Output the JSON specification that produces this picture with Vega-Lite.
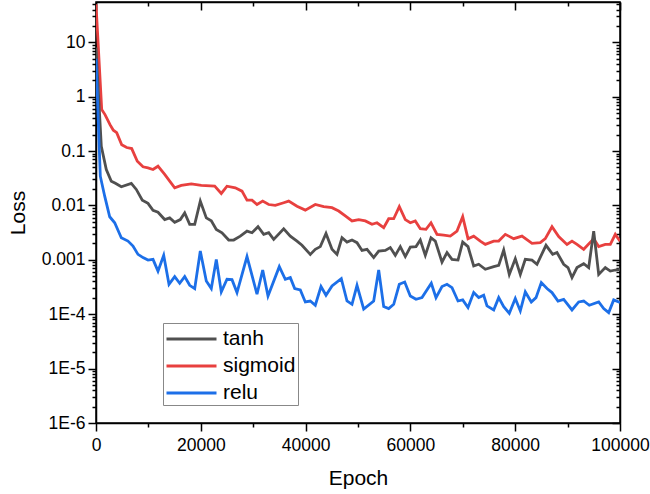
{
  "$schema": "https://vega.github.io/schema/vega-lite/v6.json",
  "autosize": {"type": "none"},
  "width": 524,
  "height": 421,
  "padding": {"left": 96, "top": 2, "right": 30, "bottom": 71},
  "background": "white",
  "config": {
    "font": "Liberation Sans",
    "view": {"stroke": "black", "strokeWidth": 1.5},
    "axis": {"domainColor": "black", "domainWidth": 1.5, "tickColor": "black", "tickWidth": 1.5, "labelColor": "black", "titleColor": "black", "grid": false}
  },
  "datasets": {
    "loss": [
      {"epoch": 0, "loss": 50, "fn": "sigmoid"},
      {"epoch": 1088, "loss": 0.577, "fn": "sigmoid"},
      {"epoch": 1718, "loss": 0.468, "fn": "sigmoid"},
      {"epoch": 2672, "loss": 0.306, "fn": "sigmoid"},
      {"epoch": 3302, "loss": 0.241, "fn": "sigmoid"},
      {"epoch": 3950, "loss": 0.218, "fn": "sigmoid"},
      {"epoch": 4905, "loss": 0.131, "fn": "sigmoid"},
      {"epoch": 5859, "loss": 0.116, "fn": "sigmoid"},
      {"epoch": 6813, "loss": 0.111, "fn": "sigmoid"},
      {"epoch": 7882, "loss": 0.065, "fn": "sigmoid"},
      {"epoch": 8970, "loss": 0.0513, "fn": "sigmoid"},
      {"epoch": 9924, "loss": 0.0492, "fn": "sigmoid"},
      {"epoch": 10878, "loss": 0.0458, "fn": "sigmoid"},
      {"epoch": 11832, "loss": 0.0526, "fn": "sigmoid"},
      {"epoch": 13111, "loss": 0.0371, "fn": "sigmoid"},
      {"epoch": 15019, "loss": 0.0211, "fn": "sigmoid"},
      {"epoch": 16279, "loss": 0.0233, "fn": "sigmoid"},
      {"epoch": 18187, "loss": 0.025, "fn": "sigmoid"},
      {"epoch": 20095, "loss": 0.0233, "fn": "sigmoid"},
      {"epoch": 22652, "loss": 0.0226, "fn": "sigmoid"},
      {"epoch": 23912, "loss": 0.0166, "fn": "sigmoid"},
      {"epoch": 25000, "loss": 0.0226, "fn": "sigmoid"},
      {"epoch": 26584, "loss": 0.0211, "fn": "sigmoid"},
      {"epoch": 27862, "loss": 0.0183, "fn": "sigmoid"},
      {"epoch": 28817, "loss": 0.0125, "fn": "sigmoid"},
      {"epoch": 29771, "loss": 0.0125, "fn": "sigmoid"},
      {"epoch": 30725, "loss": 0.0104, "fn": "sigmoid"},
      {"epoch": 31813, "loss": 0.012, "fn": "sigmoid"},
      {"epoch": 32958, "loss": 0.0104, "fn": "sigmoid"},
      {"epoch": 34217, "loss": 0.01, "fn": "sigmoid"},
      {"epoch": 35821, "loss": 0.0112, "fn": "sigmoid"},
      {"epoch": 36775, "loss": 0.012, "fn": "sigmoid"},
      {"epoch": 38359, "loss": 0.0097, "fn": "sigmoid"},
      {"epoch": 39943, "loss": 0.0082, "fn": "sigmoid"},
      {"epoch": 41851, "loss": 0.0104, "fn": "sigmoid"},
      {"epoch": 43454, "loss": 0.0095, "fn": "sigmoid"},
      {"epoch": 45038, "loss": 0.0091, "fn": "sigmoid"},
      {"epoch": 46317, "loss": 0.0079, "fn": "sigmoid"},
      {"epoch": 47577, "loss": 0.0064, "fn": "sigmoid"},
      {"epoch": 48855, "loss": 0.0052, "fn": "sigmoid"},
      {"epoch": 50134, "loss": 0.0055, "fn": "sigmoid"},
      {"epoch": 51393, "loss": 0.0052, "fn": "sigmoid"},
      {"epoch": 52672, "loss": 0.0045, "fn": "sigmoid"},
      {"epoch": 53626, "loss": 0.0048, "fn": "sigmoid"},
      {"epoch": 54905, "loss": 0.0039, "fn": "sigmoid"},
      {"epoch": 55859, "loss": 0.0057, "fn": "sigmoid"},
      {"epoch": 56813, "loss": 0.0057, "fn": "sigmoid"},
      {"epoch": 57882, "loss": 0.0095, "fn": "sigmoid"},
      {"epoch": 59027, "loss": 0.0055, "fn": "sigmoid"},
      {"epoch": 59981, "loss": 0.0048, "fn": "sigmoid"},
      {"epoch": 60935, "loss": 0.0052, "fn": "sigmoid"},
      {"epoch": 61889, "loss": 0.00373, "fn": "sigmoid"},
      {"epoch": 62977, "loss": 0.00363, "fn": "sigmoid"},
      {"epoch": 63931, "loss": 0.0048, "fn": "sigmoid"},
      {"epoch": 65076, "loss": 0.00294, "fn": "sigmoid"},
      {"epoch": 66355, "loss": 0.00285, "fn": "sigmoid"},
      {"epoch": 67614, "loss": 0.00273, "fn": "sigmoid"},
      {"epoch": 68893, "loss": 0.00337, "fn": "sigmoid"},
      {"epoch": 69981, "loss": 0.0062, "fn": "sigmoid"},
      {"epoch": 70992, "loss": 0.00245, "fn": "sigmoid"},
      {"epoch": 72080, "loss": 0.00273, "fn": "sigmoid"},
      {"epoch": 73340, "loss": 0.00221, "fn": "sigmoid"},
      {"epoch": 74294, "loss": 0.00192, "fn": "sigmoid"},
      {"epoch": 75898, "loss": 0.00221, "fn": "sigmoid"},
      {"epoch": 76852, "loss": 0.00221, "fn": "sigmoid"},
      {"epoch": 78111, "loss": 0.00294, "fn": "sigmoid"},
      {"epoch": 79714, "loss": 0.00245, "fn": "sigmoid"},
      {"epoch": 81298, "loss": 0.00273, "fn": "sigmoid"},
      {"epoch": 83206, "loss": 0.00201, "fn": "sigmoid"},
      {"epoch": 84790, "loss": 0.00207, "fn": "sigmoid"},
      {"epoch": 85744, "loss": 0.00245, "fn": "sigmoid"},
      {"epoch": 87023, "loss": 0.00406, "fn": "sigmoid"},
      {"epoch": 88301, "loss": 0.00267, "fn": "sigmoid"},
      {"epoch": 89885, "loss": 0.00192, "fn": "sigmoid"},
      {"epoch": 90840, "loss": 0.00221, "fn": "sigmoid"},
      {"epoch": 91794, "loss": 0.00192, "fn": "sigmoid"},
      {"epoch": 93072, "loss": 0.00156, "fn": "sigmoid"},
      {"epoch": 94981, "loss": 0.00245, "fn": "sigmoid"},
      {"epoch": 95935, "loss": 0.00175, "fn": "sigmoid"},
      {"epoch": 97195, "loss": 0.00192, "fn": "sigmoid"},
      {"epoch": 98149, "loss": 0.00192, "fn": "sigmoid"},
      {"epoch": 99103, "loss": 0.00294, "fn": "sigmoid"},
      {"epoch": 100000, "loss": 0.00221, "fn": "sigmoid"},

      {"epoch": 0, "loss": 8, "fn": "tanh"},
      {"epoch": 1011, "loss": 0.122, "fn": "tanh"},
      {"epoch": 1966, "loss": 0.0458, "fn": "tanh"},
      {"epoch": 2920, "loss": 0.0279, "fn": "tanh"},
      {"epoch": 3700, "loss": 0.0255, "fn": "tanh"},
      {"epoch": 4828, "loss": 0.022, "fn": "tanh"},
      {"epoch": 6737, "loss": 0.0254, "fn": "tanh"},
      {"epoch": 7691, "loss": 0.0197, "fn": "tanh"},
      {"epoch": 8836, "loss": 0.0125, "fn": "tanh"},
      {"epoch": 9924, "loss": 0.0109, "fn": "tanh"},
      {"epoch": 10878, "loss": 0.0081, "fn": "tanh"},
      {"epoch": 11832, "loss": 0.0075, "fn": "tanh"},
      {"epoch": 13111, "loss": 0.0055, "fn": "tanh"},
      {"epoch": 14065, "loss": 0.0059, "fn": "tanh"},
      {"epoch": 15019, "loss": 0.0049, "fn": "tanh"},
      {"epoch": 16088, "loss": 0.0055, "fn": "tanh"},
      {"epoch": 16927, "loss": 0.0073, "fn": "tanh"},
      {"epoch": 17882, "loss": 0.0045, "fn": "tanh"},
      {"epoch": 18836, "loss": 0.0045, "fn": "tanh"},
      {"epoch": 19905, "loss": 0.012, "fn": "tanh"},
      {"epoch": 21050, "loss": 0.0059, "fn": "tanh"},
      {"epoch": 22004, "loss": 0.0052, "fn": "tanh"},
      {"epoch": 22958, "loss": 0.00363, "fn": "tanh"},
      {"epoch": 24046, "loss": 0.00315, "fn": "tanh"},
      {"epoch": 25324, "loss": 0.00231, "fn": "tanh"},
      {"epoch": 26278, "loss": 0.00231, "fn": "tanh"},
      {"epoch": 27538, "loss": 0.00273, "fn": "tanh"},
      {"epoch": 28817, "loss": 0.00337, "fn": "tanh"},
      {"epoch": 29771, "loss": 0.00315, "fn": "tanh"},
      {"epoch": 30916, "loss": 0.00406, "fn": "tanh"},
      {"epoch": 32004, "loss": 0.00294, "fn": "tanh"},
      {"epoch": 32958, "loss": 0.00315, "fn": "tanh"},
      {"epoch": 33912, "loss": 0.00238, "fn": "tanh"},
      {"epoch": 35821, "loss": 0.00373, "fn": "tanh"},
      {"epoch": 37080, "loss": 0.00273, "fn": "tanh"},
      {"epoch": 38359, "loss": 0.00221, "fn": "tanh"},
      {"epoch": 39313, "loss": 0.00185, "fn": "tanh"},
      {"epoch": 40897, "loss": 0.00126, "fn": "tanh"},
      {"epoch": 41851, "loss": 0.00156, "fn": "tanh"},
      {"epoch": 42805, "loss": 0.00175, "fn": "tanh"},
      {"epoch": 43893, "loss": 0.00306, "fn": "tanh"},
      {"epoch": 45038, "loss": 0.00156, "fn": "tanh"},
      {"epoch": 45992, "loss": 0.00126, "fn": "tanh"},
      {"epoch": 46947, "loss": 0.00255, "fn": "tanh"},
      {"epoch": 47901, "loss": 0.00212, "fn": "tanh"},
      {"epoch": 48855, "loss": 0.00231, "fn": "tanh"},
      {"epoch": 49809, "loss": 0.00207, "fn": "tanh"},
      {"epoch": 50763, "loss": 0.00149, "fn": "tanh"},
      {"epoch": 51718, "loss": 0.00156, "fn": "tanh"},
      {"epoch": 52996, "loss": 0.0011, "fn": "tanh"},
      {"epoch": 53950, "loss": 0.00145, "fn": "tanh"},
      {"epoch": 55210, "loss": 0.00149, "fn": "tanh"},
      {"epoch": 56164, "loss": 0.00168, "fn": "tanh"},
      {"epoch": 57118, "loss": 0.00121, "fn": "tanh"},
      {"epoch": 58072, "loss": 0.00175, "fn": "tanh"},
      {"epoch": 59027, "loss": 0.00115, "fn": "tanh"},
      {"epoch": 59981, "loss": 0.00172, "fn": "tanh"},
      {"epoch": 61069, "loss": 0.00175, "fn": "tanh"},
      {"epoch": 61889, "loss": 0.00231, "fn": "tanh"},
      {"epoch": 62844, "loss": 0.00121, "fn": "tanh"},
      {"epoch": 63931, "loss": 0.00255, "fn": "tanh"},
      {"epoch": 64752, "loss": 0.00221, "fn": "tanh"},
      {"epoch": 66030, "loss": 0.00091, "fn": "tanh"},
      {"epoch": 66985, "loss": 0.00136, "fn": "tanh"},
      {"epoch": 67939, "loss": 0.00102, "fn": "tanh"},
      {"epoch": 69084, "loss": 0.00099, "fn": "tanh"},
      {"epoch": 69981, "loss": 0.00212, "fn": "tanh"},
      {"epoch": 70992, "loss": 0.00175, "fn": "tanh"},
      {"epoch": 72080, "loss": 0.00077, "fn": "tanh"},
      {"epoch": 73034, "loss": 0.00083, "fn": "tanh"},
      {"epoch": 74294, "loss": 0.00067, "fn": "tanh"},
      {"epoch": 75898, "loss": 0.00075, "fn": "tanh"},
      {"epoch": 76852, "loss": 0.00079, "fn": "tanh"},
      {"epoch": 77806, "loss": 0.00151, "fn": "tanh"},
      {"epoch": 78875, "loss": 0.00054, "fn": "tanh"},
      {"epoch": 80020, "loss": 0.00105, "fn": "tanh"},
      {"epoch": 80974, "loss": 0.00054, "fn": "tanh"},
      {"epoch": 81928, "loss": 0.00102, "fn": "tanh"},
      {"epoch": 83206, "loss": 0.00099, "fn": "tanh"},
      {"epoch": 84160, "loss": 0.00083, "fn": "tanh"},
      {"epoch": 85878, "loss": 0.00185, "fn": "tanh"},
      {"epoch": 87156, "loss": 0.00126, "fn": "tanh"},
      {"epoch": 87977, "loss": 0.00136, "fn": "tanh"},
      {"epoch": 89255, "loss": 0.00083, "fn": "tanh"},
      {"epoch": 90076, "loss": 0.00072, "fn": "tanh"},
      {"epoch": 90840, "loss": 0.00047, "fn": "tanh"},
      {"epoch": 91794, "loss": 0.00072, "fn": "tanh"},
      {"epoch": 93072, "loss": 0.00085, "fn": "tanh"},
      {"epoch": 94026, "loss": 0.00072, "fn": "tanh"},
      {"epoch": 94981, "loss": 0.00337, "fn": "tanh"},
      {"epoch": 95935, "loss": 0.00054, "fn": "tanh"},
      {"epoch": 97195, "loss": 0.00072, "fn": "tanh"},
      {"epoch": 98149, "loss": 0.00062, "fn": "tanh"},
      {"epoch": 99103, "loss": 0.00065, "fn": "tanh"},
      {"epoch": 100000, "loss": 0.00067, "fn": "tanh"},

      {"epoch": 0, "loss": 5, "fn": "relu"},
      {"epoch": 821, "loss": 0.0345, "fn": "relu"},
      {"epoch": 1660, "loss": 0.0148, "fn": "relu"},
      {"epoch": 2615, "loss": 0.0062, "fn": "relu"},
      {"epoch": 3569, "loss": 0.0048, "fn": "relu"},
      {"epoch": 4828, "loss": 0.00255, "fn": "relu"},
      {"epoch": 6107, "loss": 0.00221, "fn": "relu"},
      {"epoch": 7061, "loss": 0.00179, "fn": "relu"},
      {"epoch": 8015, "loss": 0.00126, "fn": "relu"},
      {"epoch": 8970, "loss": 0.0011, "fn": "relu"},
      {"epoch": 9924, "loss": 0.00099, "fn": "relu"},
      {"epoch": 10878, "loss": 0.00102, "fn": "relu"},
      {"epoch": 11832, "loss": 0.00062, "fn": "relu"},
      {"epoch": 12920, "loss": 0.00121, "fn": "relu"},
      {"epoch": 13931, "loss": 0.000355, "fn": "relu"},
      {"epoch": 15019, "loss": 0.000492, "fn": "relu"},
      {"epoch": 15973, "loss": 0.000371, "fn": "relu"},
      {"epoch": 16927, "loss": 0.000492, "fn": "relu"},
      {"epoch": 17882, "loss": 0.00034, "fn": "relu"},
      {"epoch": 18836, "loss": 0.000296, "fn": "relu"},
      {"epoch": 19905, "loss": 0.00145, "fn": "relu"},
      {"epoch": 21050, "loss": 0.000408, "fn": "relu"},
      {"epoch": 22004, "loss": 0.000296, "fn": "relu"},
      {"epoch": 22958, "loss": 0.00102, "fn": "relu"},
      {"epoch": 23912, "loss": 0.000257, "fn": "relu"},
      {"epoch": 25000, "loss": 0.000439, "fn": "relu"},
      {"epoch": 25954, "loss": 0.000432, "fn": "relu"},
      {"epoch": 26908, "loss": 0.00025, "fn": "relu"},
      {"epoch": 28817, "loss": 0.00115, "fn": "relu"},
      {"epoch": 30725, "loss": 0.000233, "fn": "relu"},
      {"epoch": 31813, "loss": 0.00065, "fn": "relu"},
      {"epoch": 32824, "loss": 0.000217, "fn": "relu"},
      {"epoch": 34981, "loss": 0.00075, "fn": "relu"},
      {"epoch": 36126, "loss": 0.000439, "fn": "relu"},
      {"epoch": 37080, "loss": 0.000471, "fn": "relu"},
      {"epoch": 37920, "loss": 0.000296, "fn": "relu"},
      {"epoch": 38989, "loss": 0.000279, "fn": "relu"},
      {"epoch": 39943, "loss": 0.000168, "fn": "relu"},
      {"epoch": 40897, "loss": 0.000175, "fn": "relu"},
      {"epoch": 41851, "loss": 0.000146, "fn": "relu"},
      {"epoch": 42939, "loss": 0.000322, "fn": "relu"},
      {"epoch": 43893, "loss": 0.000223, "fn": "relu"},
      {"epoch": 45038, "loss": 0.000331, "fn": "relu"},
      {"epoch": 46813, "loss": 0.000452, "fn": "relu"},
      {"epoch": 47901, "loss": 0.000175, "fn": "relu"},
      {"epoch": 48855, "loss": 0.000152, "fn": "relu"},
      {"epoch": 49809, "loss": 0.00034, "fn": "relu"},
      {"epoch": 51088, "loss": 0.000124, "fn": "relu"},
      {"epoch": 52996, "loss": 0.000175, "fn": "relu"},
      {"epoch": 53950, "loss": 0.00065, "fn": "relu"},
      {"epoch": 54905, "loss": 0.000138, "fn": "relu"},
      {"epoch": 55859, "loss": 0.000127, "fn": "relu"},
      {"epoch": 56813, "loss": 0.000152, "fn": "relu"},
      {"epoch": 57882, "loss": 0.000355, "fn": "relu"},
      {"epoch": 58912, "loss": 0.000391, "fn": "relu"},
      {"epoch": 59981, "loss": 0.000217, "fn": "relu"},
      {"epoch": 61069, "loss": 0.000188, "fn": "relu"},
      {"epoch": 62214, "loss": 0.000202, "fn": "relu"},
      {"epoch": 63989, "loss": 0.000371, "fn": "relu"},
      {"epoch": 64885, "loss": 0.000202, "fn": "relu"},
      {"epoch": 66030, "loss": 0.000322, "fn": "relu"},
      {"epoch": 66985, "loss": 0.000355, "fn": "relu"},
      {"epoch": 67939, "loss": 0.000309, "fn": "relu"},
      {"epoch": 69084, "loss": 0.000175, "fn": "relu"},
      {"epoch": 69981, "loss": 0.000183, "fn": "relu"},
      {"epoch": 70992, "loss": 0.000133, "fn": "relu"},
      {"epoch": 72080, "loss": 0.00025, "fn": "relu"},
      {"epoch": 73034, "loss": 0.000202, "fn": "relu"},
      {"epoch": 73989, "loss": 0.000223, "fn": "relu"},
      {"epoch": 74618, "loss": 0.000142, "fn": "relu"},
      {"epoch": 75898, "loss": 0.00012, "fn": "relu"},
      {"epoch": 76852, "loss": 0.000202, "fn": "relu"},
      {"epoch": 77806, "loss": 0.000138, "fn": "relu"},
      {"epoch": 78875, "loss": 0.000104, "fn": "relu"},
      {"epoch": 80020, "loss": 0.000194, "fn": "relu"},
      {"epoch": 80974, "loss": 0.000115, "fn": "relu"},
      {"epoch": 81928, "loss": 0.000257, "fn": "relu"},
      {"epoch": 83073, "loss": 0.000168, "fn": "relu"},
      {"epoch": 83969, "loss": 0.000202, "fn": "relu"},
      {"epoch": 84981, "loss": 0.000382, "fn": "relu"},
      {"epoch": 86069, "loss": 0.000296, "fn": "relu"},
      {"epoch": 87023, "loss": 0.00025, "fn": "relu"},
      {"epoch": 88168, "loss": 0.000175, "fn": "relu"},
      {"epoch": 89255, "loss": 0.000188, "fn": "relu"},
      {"epoch": 90840, "loss": 0.00012, "fn": "relu"},
      {"epoch": 92118, "loss": 0.000168, "fn": "relu"},
      {"epoch": 93072, "loss": 0.000175, "fn": "relu"},
      {"epoch": 94141, "loss": 0.000146, "fn": "relu"},
      {"epoch": 95935, "loss": 0.000168, "fn": "relu"},
      {"epoch": 96889, "loss": 0.000127, "fn": "relu"},
      {"epoch": 97843, "loss": 0.000107, "fn": "relu"},
      {"epoch": 98798, "loss": 0.000183, "fn": "relu"},
      {"epoch": 100000, "loss": 0.000164, "fn": "relu"}
    ]
  },
  "data": {"name": "loss"},
  "layer": [
    {
      "mark": {"type": "line", "strokeWidth": 2.8, "clip": true},
      "encoding": {
        "x": {
          "field": "epoch", "type": "quantitative",
          "scale": {"domain": [0, 100000], "nice": false, "zero": false},
          "axis": {
            "orient": "bottom",
            "values": [0, 10000, 20000, 30000, 40000, 50000, 60000, 70000, 80000, 90000, 100000],
            "labelExpr": "datum.value % 20000 == 0 ? format(datum.value, 'd') : ''",
            "tickSize": {"condition": {"test": "datum.value % 20000 == 0", "value": 8}, "value": 4},
            "labelFontSize": 17.5, "labelPadding": 5, "labelFlush": false, "labelOverlap": false,
            "title": "Epoch", "titleFontSize": 21, "titleFontWeight": "normal", "titlePadding": 14
          }
        },
        "y": {
          "field": "loss", "type": "quantitative",
          "scale": {"type": "log", "domain": [0.000001, 55], "nice": false},
          "axis": {
            "orient": "left",
            "values": [0.000001,0.000002,0.000003,0.000004,0.000005,0.000006,0.000007,0.000008,0.000009,
                       0.00001,0.00002,0.00003,0.00004,0.00005,0.00006,0.00007,0.00008,0.00009,
                       0.0001,0.0002,0.0003,0.0004,0.0005,0.0006,0.0007,0.0008,0.0009,
                       0.001,0.002,0.003,0.004,0.005,0.006,0.007,0.008,0.009,
                       0.01,0.02,0.03,0.04,0.05,0.06,0.07,0.08,0.09,
                       0.1,0.2,0.3,0.4,0.5,0.6,0.7,0.8,0.9,
                       1,2,3,4,5,6,7,8,9,10,20,30,40,50],
            "labelExpr": "abs(log(datum.value)/LN10 - round(log(datum.value)/LN10)) > 0.01 ? '' : (round(log(datum.value)/LN10) <= -4 ? '1E' + round(log(datum.value)/LN10) : format(datum.value, '~g'))",
            "tickSize": {"condition": {"test": "abs(log(datum.value)/LN10 - round(log(datum.value)/LN10)) < 0.01", "value": 8}, "value": 4},
            "labelFontSize": 17.5, "labelPadding": 3, "labelOverlap": false,
            "title": "Loss", "titleFontSize": 21, "titleFontWeight": "normal", "titlePadding": 13
          }
        },
        "color": {
          "field": "fn", "type": "nominal",
          "scale": {"domain": ["tanh", "sigmoid", "relu"], "range": ["#505050", "#E8403F", "#1C6FE8"]},
          "legend": {
            "orient": "none", "legendX": 67, "legendY": 321,
            "title": null, "strokeColor": "#888888", "fillColor": "white", "padding": 2,
            "labelFontSize": 21, "labelColor": "black", "labelOffset": 30,
            "symbolType": "M-1,0H3", "symbolSize": 625, "symbolStrokeWidth": 3,
            "rowPadding": 3
          }
        },
        "detail": {"field": "fn"},
        "order": {"field": "epoch", "type": "quantitative"}
      }
    },
    {
      "mark": {"type": "line", "opacity": 0},
      "encoding": {
        "x": {
          "field": "epoch", "type": "quantitative",
          "axis": {
            "orient": "top",
            "values": [0, 10000, 20000, 30000, 40000, 50000, 60000, 70000, 80000, 90000, 100000],
            "labels": false, "title": null,
            "tickSize": {"condition": {"test": "datum.value % 20000 == 0", "value": -8}, "value": -4}
          }
        },
        "y": {
          "field": "loss", "type": "quantitative",
          "axis": {
            "orient": "right",
            "values": [0.000001,0.000002,0.000003,0.000004,0.000005,0.000006,0.000007,0.000008,0.000009,
                       0.00001,0.00002,0.00003,0.00004,0.00005,0.00006,0.00007,0.00008,0.00009,
                       0.0001,0.0002,0.0003,0.0004,0.0005,0.0006,0.0007,0.0008,0.0009,
                       0.001,0.002,0.003,0.004,0.005,0.006,0.007,0.008,0.009,
                       0.01,0.02,0.03,0.04,0.05,0.06,0.07,0.08,0.09,
                       0.1,0.2,0.3,0.4,0.5,0.6,0.7,0.8,0.9,
                       1,2,3,4,5,6,7,8,9,10,20,30,40,50],
            "labels": false, "title": null,
            "tickSize": {"condition": {"test": "abs(log(datum.value)/LN10 - round(log(datum.value)/LN10)) < 0.01", "value": -8}, "value": -4}
          }
        },
        "detail": {"field": "fn"}
      }
    }
  ],
  "resolve": {"axis": {"x": "independent", "y": "independent"}}
}
